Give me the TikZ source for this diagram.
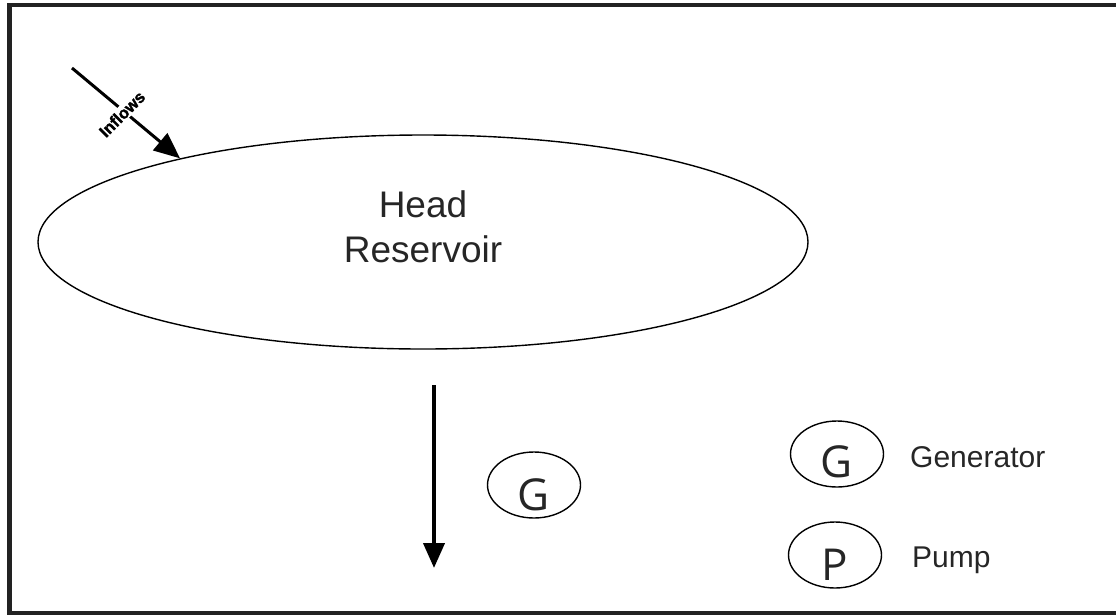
\documentclass[tikz,border=0pt]{standalone}
\usepackage{fontspec}
\setmainfont{Liberation Sans}
\newfontfamily\letterfont{Open Sans}
\newfontfamily\heavyfont[FakeBold=1.6]{Liberation Sans}
\usetikzlibrary{shapes.geometric,arrows.meta}
\definecolor{txt}{HTML}{262626}
\definecolor{frm}{HTML}{222222}
\tikzset{
  oval/.style={draw=black, line width=1.4pt, ellipse, inner sep=0pt},
  smalloval/.style={oval, minimum width=93pt, minimum height=66pt},
  bigtxt/.style={text=txt, font=\fontsize{37}{45}\selectfont, align=center, inner sep=0pt},
  legtxt/.style={text=txt, font=\fontsize{30}{36}\selectfont, inner sep=0pt, anchor=base west},
  lettxt/.style={text=txt, font=\letterfont\fontsize{44}{50}\selectfont, inner sep=0pt, anchor=base},
  flow/.style={line width=4pt, -{Triangle[length=25pt,width=21pt]}},
}
\begin{document}
\begin{tikzpicture}[x=1pt,y=-1pt]
\useasboundingbox (0,0) rectangle (1116,614);
\clip (0,0) rectangle (1116,614);
\draw[frm, line width=4.5pt] (9.5,5) rectangle (1130,613);
% reservoir
\node[oval, minimum width=770pt, minimum height=214pt] (res) at (423,242) {};
\node[bigtxt] (reslbl) at (423,227) {Head\\Reservoir};
% inflows
\coordinate (inA) at (72,68);
\draw[line width=3pt, -{Triangle[length=26pt,width=22pt]}] (inA) -- (res.161.5);
\node[fill=white, inner sep=1.5pt, rotate=45, text=black, font=\heavyfont\bfseries\fontsize{16.5}{16.5}\selectfont] (inlbl) at (122,114) {Inflows};
% outflow
\coordinate (oA) at (434,385);
\coordinate (oB) at (434,568);
\draw[flow] (oA) -- (oB);
% generator on path
\node[smalloval] (g1) at (534,485) {};
\node[lettxt] (g1l) at (534,510) {G};
% legend
\node[smalloval] (g2) at (837,454) {};
\node[lettxt] (g2l) at (837,477) {G};
\node[legtxt] (g2t) at (910,467) {Generator};
\node[smalloval] (p1) at (835,555) {};
\node[lettxt] (p1l) at (835,580) {P};
\node[legtxt] (p1t) at (912,567) {Pump};
\end{tikzpicture}
\end{document}
